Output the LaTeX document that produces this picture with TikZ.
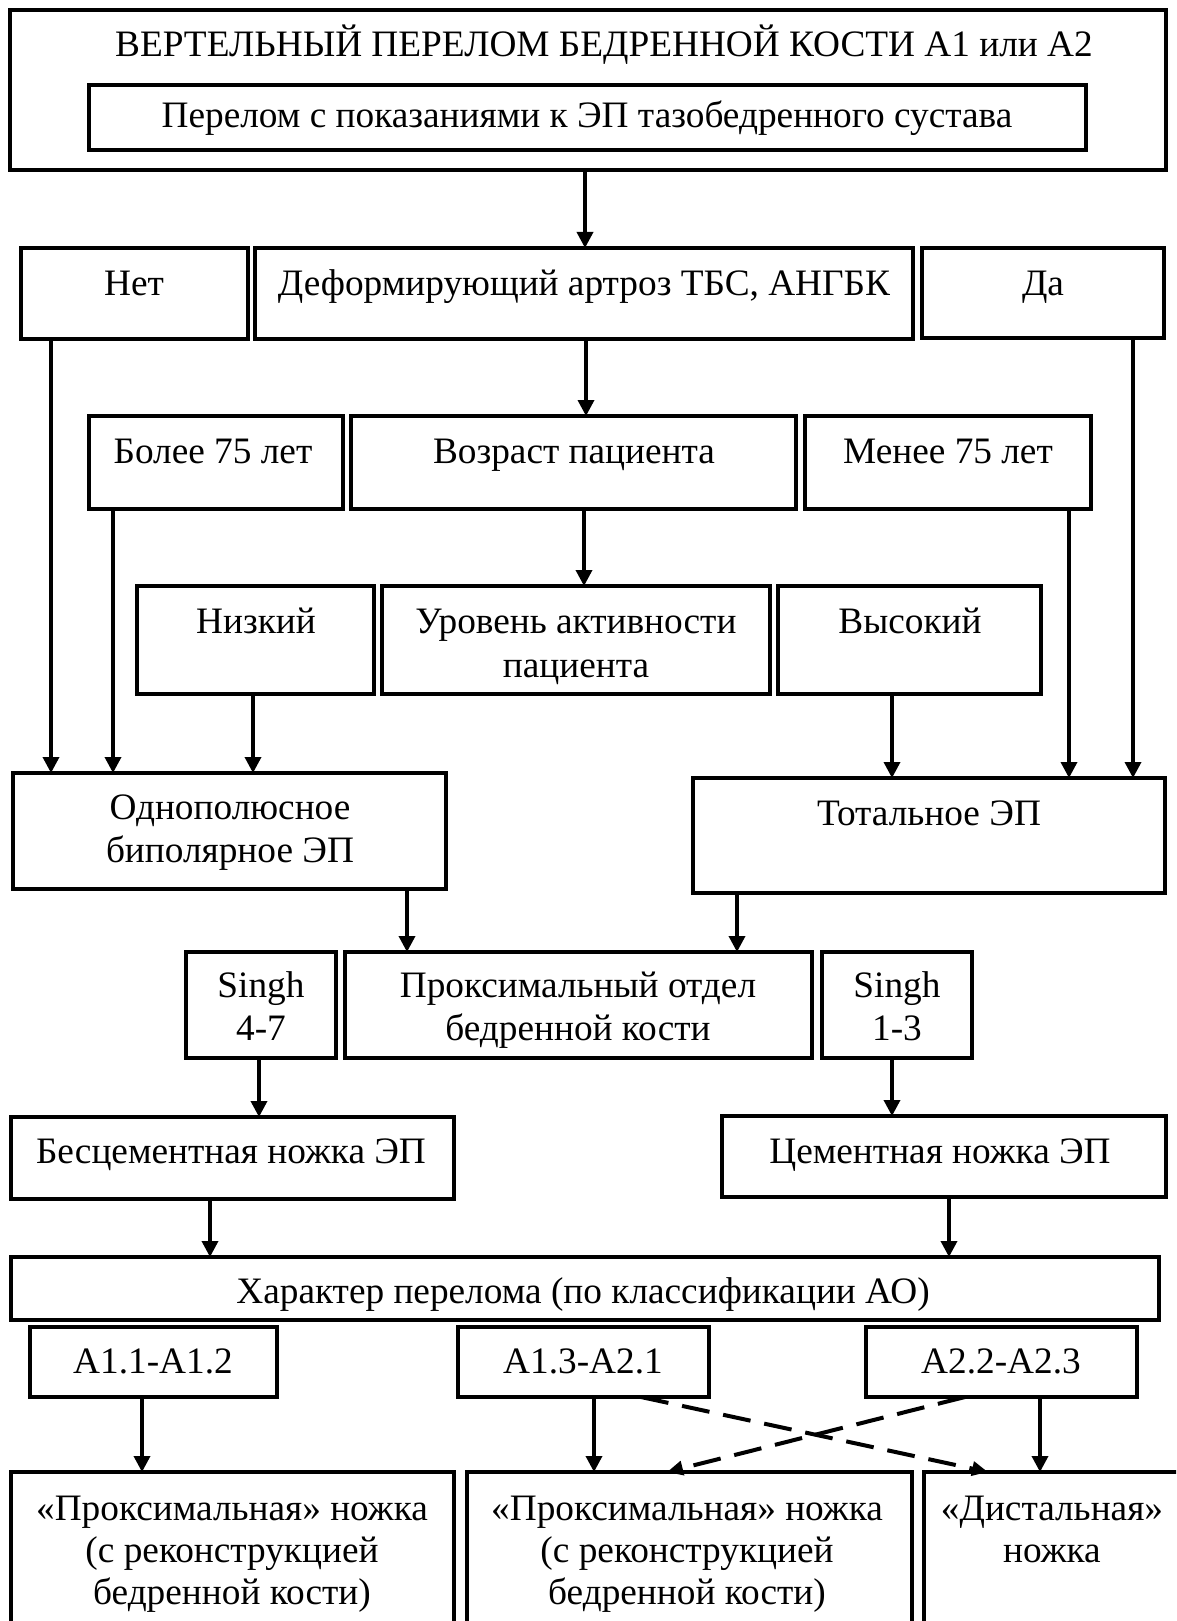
\documentclass[tikz,border=0pt]{standalone}
\usepackage{fontspec}
\setmainfont{Liberation Serif}
\usetikzlibrary{arrows.meta,fit}
\newcommand{\fs}{\fontsize{37.3}{43}\selectfont}
\tikzset{
  box/.style={draw, line width=4pt, inner sep=0pt, outer sep=0pt},
  lbl/.style={font=\fs, anchor=base, inner sep=0pt},
  arr/.style={line width=3.5pt, -{Triangle[length=16pt,width=16pt]}},
  darr/.style={line width=4pt, dash pattern=on 28pt off 14pt, -{Triangle[length=16pt,width=14pt]}}
}
\newcommand{\bx}[5]{\node[box, fit={(#2,#3) (#4,#5)}] (#1) {};}
\begin{document}
\begin{tikzpicture}[x=1pt,y=-1pt]
\clip (0,0) rectangle (1176,1621);
\fill[white] (0,0) rectangle (1176,1621);
% boxes
\bx{top}{10}{10}{1166}{170}
\bx{inner}{89}{85}{1086}{150}
\bx{net}{21}{248}{248}{339}
\bx{def}{255}{248}{913}{339}
\bx{da}{922}{248}{1164}{338}
\bx{bolee}{89}{416}{343}{509}
\bx{vozr}{351}{416}{796}{509}
\bx{menee}{805}{416}{1091}{509}
\bx{nizk}{137}{586}{374}{694}
\bx{urov}{382}{586}{770}{694}
\bx{vys}{778}{586}{1041}{694}
\bx{odno}{13}{773}{446}{889}
\bx{tot}{693}{778}{1165}{893}
\bx{singhA}{186}{952}{336}{1058}
\bx{prox}{345}{952}{812}{1058}
\bx{singhB}{822}{952}{972}{1058}
\bx{bes}{11}{1117}{454}{1199}
\bx{cem}{722}{1116}{1166}{1197}
\bx{har}{11}{1257}{1159}{1320}
\bx{aa}{30}{1327}{277}{1397}
\bx{ab}{458}{1327}{709}{1397}
\bx{ac}{866}{1327}{1137}{1397}
\bx{pa}{11}{1472}{454}{1640}
\bx{pb}{467}{1472}{912}{1640}
\bx{dist}{924}{1472}{1182}{1640}
% labels
\node[lbl] (top-t) at (604,57) {ВЕРТЕЛЬНЫЙ ПЕРЕЛОМ БЕДРЕННОЙ КОСТИ А1 или А2};
\node[lbl] (inner-t) at (587,128) {Перелом с показаниями к ЭП тазобедренного сустава};
\node[lbl] (net-t) at (134,295) {Нет};
\node[lbl] (def-t) at (584,295) {Деформирующий артроз ТБС, АНГБК};
\node[lbl] (da-t) at (1043,295) {Да};
\node[lbl] (bolee-t) at (213,463) {Более 75 лет};
\node[lbl] (vozr-t) at (574,463) {Возраст пациента};
\node[lbl] (menee-t) at (948,463) {Менее 75 лет};
\node[lbl] (nizk-t) at (256,633) {Низкий};
\node[lbl] (urov-t1) at (576,633) {Уровень активности};
\node[lbl] (urov-t2) at (576,677) {пациента};
\node[lbl] (vys-t) at (910,633) {Высокий};
\node[lbl] (odno-t1) at (230,819) {Однополюсное};
\node[lbl] (odno-t2) at (230,862) {биполярное ЭП};
\node[lbl] (tot-t) at (929,825) {Тотальное ЭП};
\node[lbl] (singhA-t1) at (261,997) {Singh};
\node[lbl] (singhA-t2) at (261,1040) {4-7};
\node[lbl] (prox-t1) at (578,997) {Проксимальный отдел};
\node[lbl] (prox-t2) at (578,1040) {бедренной кости};
\node[lbl] (singhB-t1) at (897,997) {Singh};
\node[lbl] (singhB-t2) at (897,1040) {1-3};
\node[lbl] (bes-t) at (231,1163) {Бесцементная ножка ЭП};
\node[lbl] (cem-t) at (940,1163) {Цементная ножка ЭП};
\node[lbl] (har-t) at (583,1303) {Характер перелома (по классификации АО)};
\node[lbl] (aa-t) at (153,1373) {А1.1-А1.2};
\node[lbl] (ab-t) at (583,1373) {А1.3-А2.1};
\node[lbl] (ac-t) at (1001,1373) {А2.2-А2.3};
\node[lbl] (pa-t1) at (232,1520) {«Проксимальная» ножка};
\node[lbl] (pa-t2) at (232,1562) {(с реконструкцией};
\node[lbl] (pa-t3) at (232,1604) {бедренной кости)};
\node[lbl] (pb-t1) at (687,1520) {«Проксимальная» ножка};
\node[lbl] (pb-t2) at (687,1562) {(с реконструкцией};
\node[lbl] (pb-t3) at (687,1604) {бедренной кости)};
\node[lbl] (dist-t1) at (1052,1520) {«Дистальная»};
\node[lbl] (dist-t2) at (1052,1562) {ножка};
% arrows
\draw[arr] (top.south -| 585,0) -- (def.north -| 585,0);
\draw[arr] (def.south -| 586,0) -- (vozr.north -| 586,0);
\draw[arr] (vozr.south -| 584,0) -- (urov.north -| 584,0);
\draw[arr] (net.south -| 51,0) -- (odno.north -| 51,0);
\draw[arr] (bolee.south -| 113,0) -- (odno.north -| 113,0);
\draw[arr] (nizk.south -| 253,0) -- (odno.north -| 253,0);
\draw[arr] (vys.south -| 892,0) -- (tot.north -| 892,0);
\draw[arr] (menee.south -| 1069,0) -- (tot.north -| 1069,0);
\draw[arr] (da.south -| 1133,0) -- (tot.north -| 1133,0);
\draw[arr] (odno.south -| 407,0) -- (prox.north -| 407,0);
\draw[arr] (tot.south -| 737,0) -- (prox.north -| 737,0);
\draw[arr] (singhA.south -| 259,0) -- (bes.north -| 259,0);
\draw[arr] (singhB.south -| 892,0) -- (cem.north -| 892,0);
\draw[arr] (bes.south -| 210,0) -- (har.north -| 210,0);
\draw[arr] (cem.south -| 949,0) -- (har.north -| 949,0);
\draw[arr] (aa.south -| 142,0) -- (pa.north -| 142,0);
\draw[arr] (ab.south -| 594,0) -- (pb.north -| 594,0);
\draw[arr] (ac.south -| 1040,0) -- (dist.north -| 1040,0);
\draw[darr] (ab.south -| 641,0) -- (dist.north -| 988,0);
\draw[darr] (ac.south -| 965,0) -- (pb.north -| 667,0);
\end{tikzpicture}
\end{document}
